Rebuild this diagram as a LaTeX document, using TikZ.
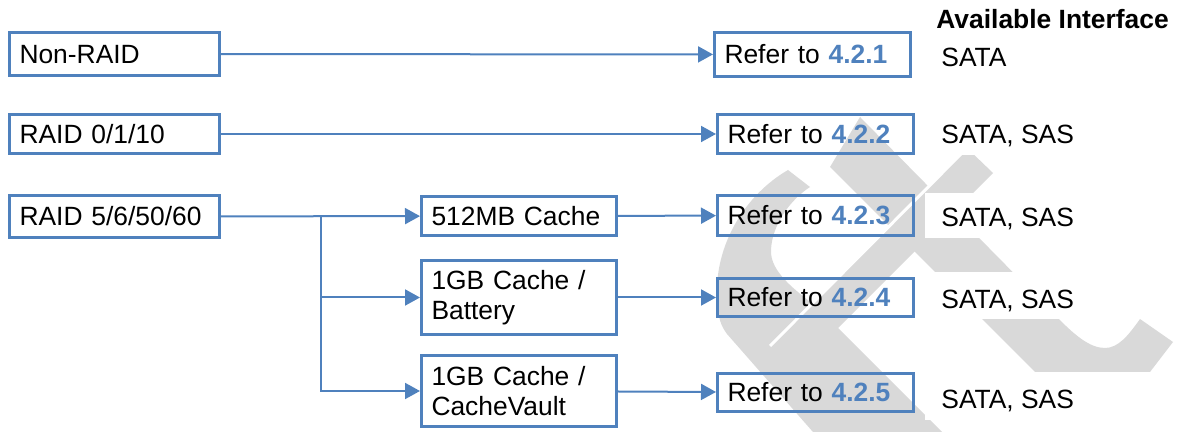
\documentclass[tikz,border=0pt]{standalone}
\usepackage{fontspec}
\setmainfont{Liberation Sans}
\usetikzlibrary{arrows.meta}
\definecolor{raidblue}{RGB}{79,129,189}
\definecolor{wmgrey}{RGB}{217,217,217}
\newcommand{\secref}[1]{\textbf{\color{raidblue}#1}}

\begin{document}
\begin{tikzpicture}[x=0.5pt, y=-0.5pt, font=\fontsize{13.2}{15}\selectfont,
	box/.style={draw=raidblue, line width=1.5pt, rectangle, inner xsep=5pt, inner ysep=0pt, align=left},
	oneline/.style={text height=12.8pt, text depth=3.3pt},
	lbox/.style={box, oneline, text width=95pt},
	mbox/.style={box, text width=87.5pt},
	rbox/.style={box, oneline, text width=88pt},
	link/.style={draw=raidblue, line width=1pt, -{Triangle[length=7.5pt, width=8pt]}},
	iface/.style={anchor=base west, inner sep=0pt}]
		\useasboundingbox (0,0) rectangle (1179,432);
		% watermark
		\fill[wmgrey] (860,117) -- (1053,313) .. controls (1075,336) and (1090,348) .. (1105,348)
			.. controls (1118,348) and (1128,336) .. (1140,319) -- (1173,342) -- (1150,372)
			-- (1150,400) -- (1063,400) -- (830,167) -- cycle;
		\fill[wmgrey] (788,170) .. controls (745,195) and (714,245) .. (717,300)
			.. controls (718,318) and (721,326) .. (727,334) -- (820,440) -- (950,440) -- (818,308)
			.. controls (795,290) and (770,272) .. (771,250) .. controls (772,225) and (790,200) .. (810,187) -- cycle;
		\fill[wmgrey] (967,148) -- (993,173) -- (795,371) -- (770,346) -- cycle;
		\draw[white, line width=1.5pt] (770,346) -- (967,148);
		\fill[white] (925,110) rectangle (1179,155);
		\fill[white] (925,193) rectangle (1179,238);
		\fill[white] (925,272) rectangle (1179,319);
		\fill[white] (925,372) rectangle (1179,420);

		\node[lbox, minimum height=21.5pt] (nonraid) at (114.5,54) {Non-RAID};
		\node[lbox, minimum height=19.5pt] (raid01) at (114.5,134) {RAID 0/1/10};
		\node[lbox, minimum height=21pt] (raid56) at (114.5,216.5) {RAID 5/6/50/60};
		\node[mbox, oneline, minimum height=19.5pt] (cache512) at (519,216) {512MB Cache};
		\node[mbox, minimum height=37pt] (cachebat) at (519,297.5) {1GB Cache /\\Battery};
		\node[mbox, minimum height=35.5pt] (cachevault) at (519,391) {1GB Cache /\\CacheVault};
		\node[rbox, minimum height=22pt] (ref1) at (812.5,54.5) {Refer to \secref{4.2.1}};
		\node[rbox, minimum height=19.5pt] (ref2) at (815.5,134) {Refer to \secref{4.2.2}};
		\node[rbox, minimum height=20pt] (ref3) at (815.5,215.5) {Refer to \secref{4.2.3}};
		\node[rbox, minimum height=19pt] (ref4) at (815.5,297.5) {Refer to \secref{4.2.4}};
		\node[rbox, minimum height=19pt] (ref5) at (815.5,392.5) {Refer to \secref{4.2.5}};

		\node[iface] (ifhead) at (936,28.3) {\textbf{Available Interface}};
		\node[iface] (if1) at (941,66.7) {SATA};
		\node[iface] (if2) at (941,143.3) {SATA, SAS};
		\node[iface] (if3) at (941,226.7) {SATA, SAS};
		\node[iface] (if4) at (941,308.3) {SATA, SAS};
		\node[iface] (if5) at (941,408.3) {SATA, SAS};

		\coordinate (fork) at (321,216.5);
		\draw[link] (nonraid) -- (ref1);
		\draw[link] (raid01) -- (ref2);
		\draw[link] (raid56) -- (cache512);
		\draw[link] (fork) |- (cachebat.west);
		\draw[link] (fork) |- (cachevault.west);
		\draw[link] (cache512) -- (ref3);
		\draw[link] (cachebat) -- (ref4);
		\draw[link] (cachevault) -- (ref5);
	\end{tikzpicture}
\end{document}
